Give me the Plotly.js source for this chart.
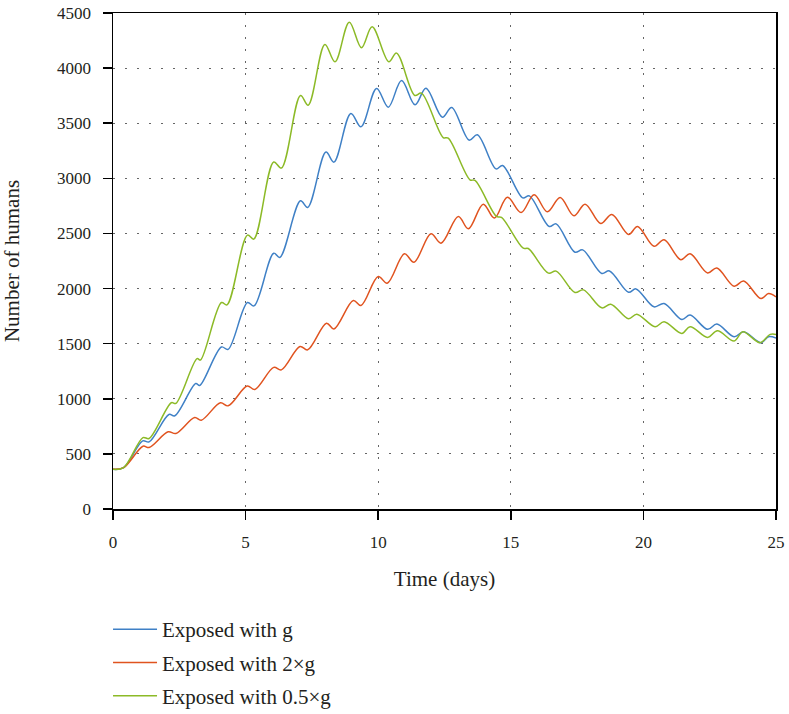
<!DOCTYPE html>
<html>
<head>
<meta charset="utf-8">
<script src="https://cdn.plot.ly/plotly-3.0.1.min.js"></script>
<style>html,body{margin:0;padding:0;background:#fff;}#chart{width:789px;height:714px;}</style>
</head>
<body>
<div id="chart"></div>
<script>
// Exposed with g
const tBlue = [0, 0.4, 1.12, 1.36, 2.11, 2.33, 3.12, 3.27, 4.09, 4.34, 5.07, 5.32, 6.06, 6.29, 7.07, 7.34, 8.03, 8.33, 8.97, 9.35, 9.94, 10.38, 10.88, 11.39, 11.8, 12.42, 12.77, 13.43, 13.74, 14.44, 14.69, 15.45, 15.70, 16.45, 16.71, 17.42, 17.71, 18.43, 18.72, 19.44, 19.72, 20.4, 20.78, 21.45, 21.76, 22.42, 22.77, 23.42, 23.78, 24.43, 24.72, 25];
const vBlue = [360, 375, 618, 609, 858, 846, 1139, 1121, 1470, 1448, 1873, 1843, 2321, 2282, 2796, 2736, 3238, 3147, 3589, 3468, 3815, 3646, 3888, 3667, 3818, 3555, 3643, 3347, 3395, 3086, 3117, 2823, 2841, 2563, 2587, 2330, 2351, 2137, 2160, 1967, 1997, 1834, 1864, 1720, 1759, 1630, 1678, 1563, 1608, 1509, 1563, 1551];
// Exposed with 2×g
const tRed = [0, 0.4, 1.13, 1.36, 2.08, 2.37, 3.08, 3.33, 4.05, 4.34, 5.06, 5.35, 6.06, 6.35, 7.05, 7.34, 8.05, 8.33, 9.06, 9.35, 10.0, 10.34, 10.99, 11.35, 11.99, 12.37, 13.02, 13.40, 13.96, 14.38, 14.87, 15.39, 15.88, 16.38, 16.86, 17.38, 17.80, 18.39, 18.81, 19.44, 19.78, 20.4, 20.78, 21.41, 21.76, 22.42, 22.77, 23.42, 23.78, 24.43, 24.72, 25];
const vRed = [360, 375, 570, 558, 700, 685, 830, 806, 964, 936, 1115, 1085, 1285, 1262, 1474, 1444, 1686, 1634, 1892, 1846, 2109, 2049, 2315, 2239, 2497, 2412, 2654, 2542, 2766, 2639, 2829, 2690, 2851, 2696, 2826, 2660, 2766, 2590, 2672, 2491, 2563, 2383, 2443, 2262, 2316, 2142, 2187, 2021, 2069, 1910, 1955, 1925];
// Exposed with 0.5×g
const tGreen = [0, 0.4, 1.13, 1.36, 2.2, 2.37, 3.17, 3.3, 4.09, 4.3, 5.07, 5.31, 6.06, 6.35, 7.07, 7.36, 7.99, 8.37, 8.91, 9.37, 9.77, 10.4, 10.69, 11.38, 11.63, 12.45, 12.64, 13.46, 13.65, 14.46, 14.65, 15.47, 15.66, 16.42, 16.71, 17.42, 17.74, 18.43, 18.77, 19.44, 19.75, 20.44, 20.78, 21.45, 21.76, 22.42, 22.79, 23.42, 23.75, 24.4, 24.78, 25];
const vGreen = [360, 375, 648, 640, 964, 958, 1364, 1352, 1873, 1852, 2485, 2449, 3148, 3093, 3752, 3664, 4215, 4057, 4417, 4185, 4375, 4057, 4136, 3752, 3773, 3370, 3365, 2987, 2981, 2654, 2645, 2366, 2363, 2140, 2158, 1964, 1988, 1825, 1858, 1726, 1768, 1654, 1699, 1593, 1654, 1557, 1617, 1524, 1608, 1509, 1584, 1584];

const seriesNames = ["Exposed with g", "Exposed with 2×g", "Exposed with 0.5×g"];
const xTicks = [0, 5, 10, 15, 20, 25];
const yTicks = [0, 500, 1000, 1500, 2000, 2500, 3000, 3500, 4000, 4500];

const font = "Liberation Serif, Times New Roman, serif";
const colors = ["#3f80c6", "#e0531f", "#8cba27"];
const xs = [tBlue, tRed, tGreen];
const ys = [vBlue, vRed, vGreen];

const traces = seriesNames.map((n, i) => ({
  x: xs[i], y: ys[i], name: n, type: "scatter", mode: "lines",
  line: {color: colors[i], width: 1.5, shape: "spline", smoothing: 1},
  legendgroup: "g" + i
}));

const axisCommon = {
  showline: true, linecolor: "#000", linewidth: 1.5, mirror: true,
  ticks: "outside", ticklen: 9, tickwidth: 1.5, tickcolor: "#000",
  ticklabelstandoff: 8,
  showgrid: true, gridcolor: "#666", gridwidth: 1.2, griddash: "2px,10px",
  zeroline: false, tickfont: {family: font, size: 17, color: "#231f20"}
};

const layout = {
  width: 789, height: 714,
  margin: {l: 113, r: 13, t: 13, b: 205},
  paper_bgcolor: "#fff", plot_bgcolor: "#fff",
  font: {family: font, color: "#231f20"},
  showlegend: true,
  legend: {x: -0.0075, xref: "paper", y: 0.147, yref: "container", xanchor: "left", yanchor: "top", orientation: "v",
    itemwidth: 44,
    font: {family: font, size: 21, color: "#231f20"}, tracegroupgap: 3, bgcolor: "rgba(0,0,0,0)"},
  xaxis: Object.assign({}, axisCommon, {range: [0, 25], tickvals: xTicks,
    title: {text: "Time (days)", font: {family: font, size: 21, color: "#231f20"}, standoff: 20}}),
  yaxis: Object.assign({}, axisCommon, {range: [0, 4500], tickvals: yTicks,
    title: {text: "Number of humans", font: {family: font, size: 21, color: "#231f20"}, standoff: 31}})
};

Plotly.newPlot("chart", traces, layout, {displayModeBar: false, staticPlot: true});
</script>
</body>
</html>
